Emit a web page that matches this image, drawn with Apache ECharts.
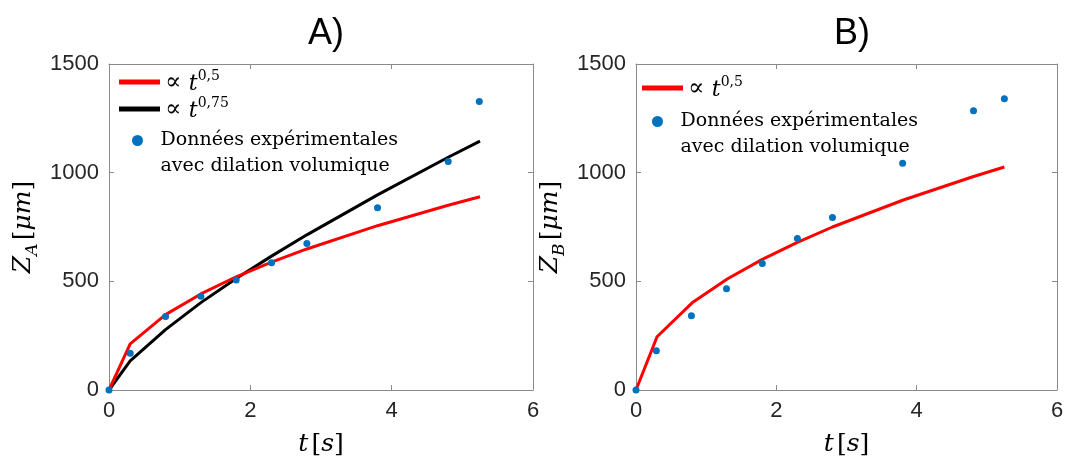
<!DOCTYPE html>
<html>
<head>
<meta charset="utf-8">
<script src="https://cdn.jsdelivr.net/npm/echarts@6/dist/echarts.min.js"></script>
<style>html,body{margin:0;padding:0;background:#fff;}#c{width:1066px;height:459px;}</style>
</head>
<body>
<div id="c"></div>
<script>
// ---- data ----
const tFit = [0, 0.3, 0.8, 1.3, 1.8, 2.3, 2.8, 3.8, 4.8, 5.25];
const fitA05 = [0, 212, 347, 442, 521, 588, 649, 756, 850, 889];
const fitA075 = [0, 134, 278, 402, 513, 616, 714, 898, 1071, 1145];
const tExpA = [0, 0.3, 0.8, 1.3, 1.8, 2.3, 2.8, 3.8, 4.8, 5.24];
const expA = [0, 169, 338, 431, 506, 586, 674, 839, 1051, 1328];
const fitB05 = [0, 245, 401, 511, 601, 679, 750, 873, 981, 1026];
const tExpB = [0, 0.29, 0.79, 1.29, 1.8, 2.3, 2.8, 3.8, 4.81, 5.25];
const expB = [0, 181, 342, 466, 582, 697, 794, 1043, 1285, 1340];
const xTicks = [0, 2, 4, 6];
const yTicks = [0, 500, 1000, 1500];

const pairs = (xs, ys) => xs.map((x, i) => [x, ys[i]]);

const AX = '#8a8a8a';
const TICKC = '#262626';
const SERIF = 'DejaVu Serif';
const SANS = 'Liberation Sans';
const RED = '#ff0000', BLACK = '#000000', BLUE = '#0072BD';

const grids = [
  {left: 109, top: 64, width: 424, height: 326, containLabel: false, outerBoundsMode: 'none'},
  {left: 636, top: 64, width: 421, height: 326, containLabel: false, outerBoundsMode: 'none'}
];

const axLine = {show: true, onZero: false, lineStyle: {color: AX, width: 1}};
const axTick = {show: true, inside: true, length: 5, lineStyle: {color: AX}};

function xAxes(gi) {
  return [
    {type: 'value', gridIndex: gi, min: xTicks[0], max: xTicks[xTicks.length - 1], interval: xTicks[1] - xTicks[0], position: 'bottom',
     axisLine: axLine, axisTick: axTick, splitLine: {show: false},
     axisLabel: {color: TICKC, fontFamily: SANS, fontSize: 22, margin: 10, formatter: v => String(v)},
     name: '{it|t} {n|[}{it|s}{n|]}', nameLocation: 'middle', nameGap: 42,
     nameTextStyle: {rich: {
       it: {fontFamily: SERIF, fontStyle: 'italic', fontSize: 25, color: '#000'},
       n: {fontFamily: SERIF, fontSize: 25, color: '#000'}
     }}},
    {type: 'value', gridIndex: gi, min: xTicks[0], max: xTicks[xTicks.length - 1], interval: xTicks[1] - xTicks[0], position: 'top',
     axisLine: axLine, axisTick: axTick, splitLine: {show: false}, axisLabel: {show: false}}
  ];
}
function yAxes(gi, sub) {
  return [
    {type: 'value', gridIndex: gi, min: yTicks[0], max: yTicks[yTicks.length - 1], interval: yTicks[1] - yTicks[0], position: 'left',
     axisLine: axLine, axisTick: axTick, splitLine: {show: false},
     axisLabel: {color: TICKC, fontFamily: SANS, fontSize: 22, margin: 10, formatter: v => String(v)},
     name: '{it|Z}{sub|' + sub + '} {n|[}{it|μm}{n|]}', nameLocation: 'middle', nameGap: 68,
     nameTextStyle: {rich: {
       it: {fontFamily: SERIF, fontStyle: 'italic', fontSize: 25, color: '#000', verticalAlign: 'top', lineHeight: 30},
       sub: {fontFamily: SERIF, fontStyle: 'italic', fontSize: 17, color: '#000', verticalAlign: 'bottom', lineHeight: 30, padding: [10, 0, 0, 0]},
       n: {fontFamily: SERIF, fontSize: 25, color: '#000', verticalAlign: 'top', lineHeight: 30}
     }}},
    {type: 'value', gridIndex: gi, min: yTicks[0], max: yTicks[yTicks.length - 1], interval: yTicks[1] - yTicks[0], position: 'right',
     axisLine: axLine, axisTick: axTick, splitLine: {show: false}, axisLabel: {show: false}}
  ];
}

const legRich = {
  s: {fontFamily: SERIF, fontSize: 24, color: '#000', lineHeight: 26, verticalAlign: 'bottom'},
  it: {fontFamily: SERIF, fontStyle: 'italic', fontSize: 22, color: '#000', lineHeight: 26, verticalAlign: 'bottom'},
  sup: {fontFamily: SERIF, fontSize: 14, color: '#000', lineHeight: 26, verticalAlign: 'top'},
  d: {fontFamily: SERIF, fontSize: 19, color: '#000', lineHeight: 26}
};
const labels = {
  A05: '{s|∝ }{it|t}{sup|0,5}', A075: '{s|∝ }{it|t}{sup|0,75}',
  B05: '{s|∝ }{it|t}{sup|0,5}',
  Aexp: '{d|Données expérimentales}\n{d|avec dilation volumique}',
  Bexp: '{d|Données expérimentales}\n{d|avec dilation volumique}'
};
const fmt = n => labels[n];

function lineLegend(left, top, names) {
  return {left: left, top: top, orient: 'vertical', itemWidth: 41, itemHeight: 5, itemGap: 1,
    selectedMode: false, padding: 0, formatter: fmt,
    textStyle: {rich: legRich},
    data: names.map(n => ({name: n, icon: 'rect'}))};
}
function dotLegend(left, top, name) {
  return {left: left, top: top, orient: 'vertical', itemWidth: 36, itemHeight: 11,
    selectedMode: false, padding: 0, formatter: fmt,
    textStyle: {rich: legRich, padding: [26, 0, 0, 0]},
    data: [{name: name, icon: 'circle'}]};
}

const option = {
  animation: false,
  backgroundColor: '#fff',
  title: [
    {text: 'A)', left: 321, top: 11, textAlign: 'center', textStyle: {fontFamily: SANS, fontSize: 36, fontWeight: 'normal', color: '#000'}},
    {text: 'B)', left: 847, top: 11, textAlign: 'center', textStyle: {fontFamily: SANS, fontSize: 36, fontWeight: 'normal', color: '#000'}}
  ],
  grid: grids,
  xAxis: [...xAxes(0), ...xAxes(1)],
  yAxis: [...yAxes(0, 'A'), ...yAxes(1, 'B')],
  legend: [
    lineLegend(119, 69, ['A05', 'A075']),
    dotLegend(132, 131, 'Aexp'),
    lineLegend(642, 75, ['B05']),
    dotLegend(652, 112, 'Bexp')
  ],
  series: [
    {name: 'A05', type: 'line', xAxisIndex: 0, yAxisIndex: 0, data: pairs(tFit, fitA05), symbol: 'none', lineStyle: {color: RED, width: 3}, itemStyle: {color: RED}, z: 3},
    {name: 'A075', type: 'line', xAxisIndex: 0, yAxisIndex: 0, data: pairs(tFit, fitA075), symbol: 'none', lineStyle: {color: BLACK, width: 3}, itemStyle: {color: BLACK}, z: 2},
    {name: 'Aexp', type: 'scatter', xAxisIndex: 0, yAxisIndex: 0, data: pairs(tExpA, expA), symbol: 'circle', symbolSize: 7, itemStyle: {color: BLUE, opacity: 1}, z: 4},
    {name: 'B05', type: 'line', xAxisIndex: 2, yAxisIndex: 2, data: pairs(tFit, fitB05), symbol: 'none', lineStyle: {color: RED, width: 3}, itemStyle: {color: RED}, z: 3},
    {name: 'Bexp', type: 'scatter', xAxisIndex: 2, yAxisIndex: 2, data: pairs(tExpB, expB), symbol: 'circle', symbolSize: 7, itemStyle: {color: BLUE, opacity: 1}, z: 4}
  ]
};
const chart = echarts.init(document.getElementById('c'), null, {renderer: 'canvas'});
chart.setOption(option);
</script>
</body>
</html>
